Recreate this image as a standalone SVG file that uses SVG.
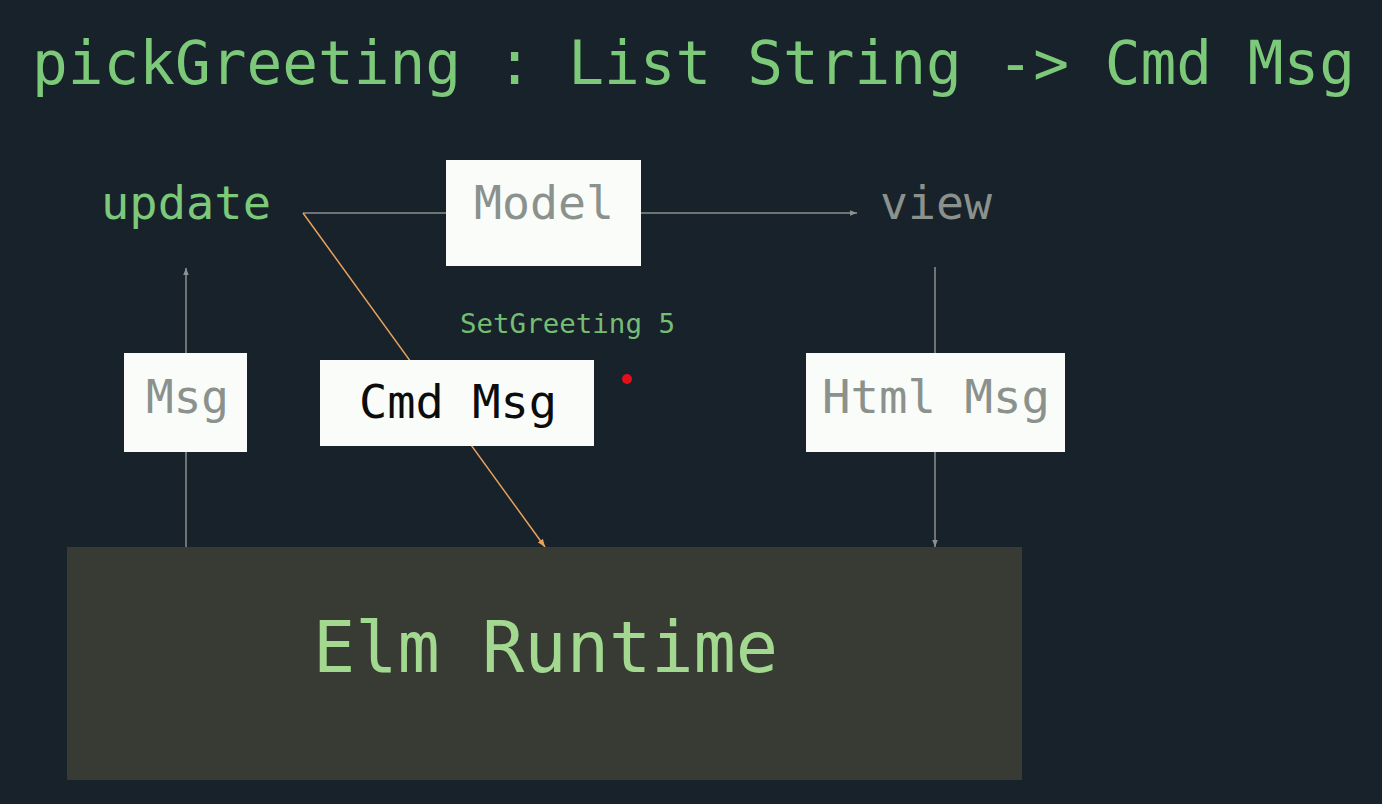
<svg xmlns="http://www.w3.org/2000/svg" width="1382" height="804" viewBox="0 0 1382 804">
<defs>
<style>
.mono{font-family:"DejaVu Sans Mono","Liberation Mono",monospace;}
.box{fill:#f9fcf9;}
.gray{fill:#8b918c;}
.green{fill:#7dc97a;}
.conn{stroke:#8b918c;stroke-width:1.5;fill:none;}
.orange{stroke:#e9a25c;stroke-width:1.5;fill:none;}
</style>
<marker id="ag" viewBox="0 0 10 10" refX="10" refY="5" markerWidth="7" markerHeight="7" orient="auto" markerUnits="userSpaceOnUse">
<path d="M0,1 L10,5 L0,9 z" fill="#8b918c"/>
</marker>
<marker id="ao" viewBox="0 0 10 10" refX="10" refY="5" markerWidth="8" markerHeight="8" orient="auto" markerUnits="userSpaceOnUse">
<path d="M0,1 L10,5 L0,9 z" fill="#e9a25c"/>
</marker>
</defs>
<rect width="1382" height="804" fill="#18222a"/>
<text class="mono green" x="32" y="84" font-size="60" textLength="1323" lengthAdjust="spacingAndGlyphs">pickGreeting : List String -&gt; Cmd Msg</text>

<g id="connectors">
<line class="conn" x1="303" y1="213" x2="446" y2="213"/>
<line class="conn" x1="641" y1="213" x2="857" y2="213" marker-end="url(#ag)"/>
<line class="conn" x1="935" y1="267" x2="935" y2="547" marker-end="url(#ag)"/>
<line class="conn" x1="186" y1="547" x2="186" y2="268" marker-end="url(#ag)"/>
<line class="orange" x1="303" y1="213" x2="545" y2="547" marker-end="url(#ao)"/>
</g>

<g id="update">
<text class="mono green" x="101" y="219" font-size="47" textLength="170" lengthAdjust="spacingAndGlyphs">update</text>
</g>
<g id="model">
<rect class="box" x="446" y="160" width="195" height="106"/>
<text class="mono gray" x="474" y="219" font-size="47" textLength="140" lengthAdjust="spacingAndGlyphs">Model</text>
</g>
<g id="view">
<text class="mono gray" x="880" y="219" font-size="47" textLength="112" lengthAdjust="spacingAndGlyphs">view</text>
</g>
<g id="msg">
<rect class="box" x="124" y="353" width="123" height="99"/>
<text class="mono gray" x="146" y="413" font-size="47" textLength="83" lengthAdjust="spacingAndGlyphs">Msg</text>
</g>
<g id="cmdmsg">
<rect class="box" x="320" y="360" width="274" height="86"/>
<text class="mono" fill="#0c0c0c" x="359" y="418" font-size="47" textLength="198" lengthAdjust="spacingAndGlyphs">Cmd Msg</text>
</g>
<g id="setgreeting">
<text class="mono" fill="#76bd74" x="460" y="333" font-size="27" textLength="215" lengthAdjust="spacingAndGlyphs">SetGreeting 5</text>
</g>
<circle cx="627" cy="379" r="5" fill="#e3101c"/>
<g id="htmlmsg">
<rect class="box" x="806" y="353" width="259" height="99"/>
<text class="mono gray" x="822" y="413" font-size="47" textLength="228" lengthAdjust="spacingAndGlyphs">Html Msg</text>
</g>
<g id="runtime">
<rect x="67" y="547" width="955" height="233" fill="#383b33"/>
<text class="mono" fill="#a2d88f" x="313" y="672" font-size="71" textLength="465" lengthAdjust="spacingAndGlyphs">Elm Runtime</text>
</g>
</svg>
